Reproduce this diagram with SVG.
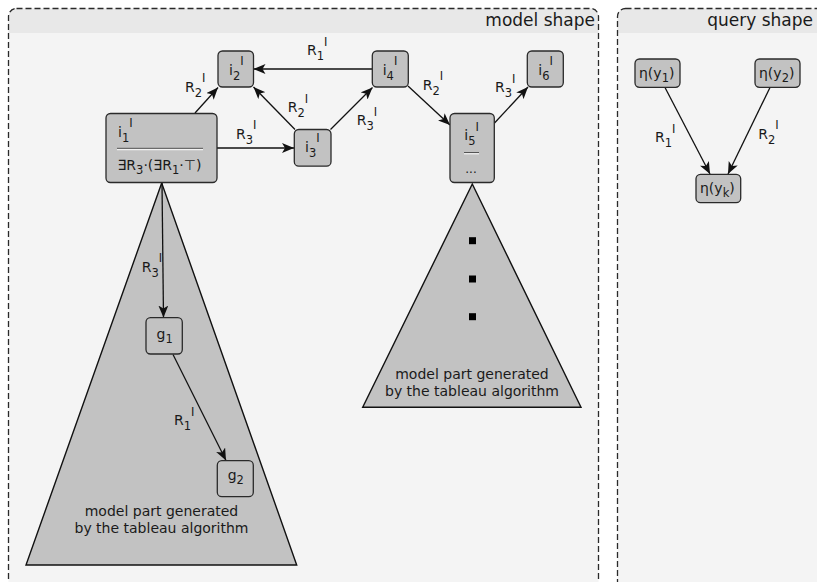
<svg xmlns="http://www.w3.org/2000/svg" width="817" height="582" viewBox="0 0 817 582">
<style>
text{font-family:"DejaVu Sans","Liberation Sans",sans-serif;fill:#1a1a1a}
.t{font-size:14px}
.s{font-size:11.5px}
.h{font-size:17px;text-anchor:end}
.c{font-size:14px;text-anchor:middle}
.panel{fill:#f4f4f4}
.head{fill:#e8e8e8}
.border{fill:none;stroke:#2a2a2a;stroke-width:1.3;stroke-dasharray:6,3}
.node{fill:#c2c2c2;stroke:#2a2a2a;stroke-width:1.3}
.tri{fill:#c2c2c2;stroke:#111;stroke-width:1.4}
.edge{stroke:#111;stroke-width:1.3;fill:none;marker-end:url(#arr)}
.sepd{stroke:#555;stroke-width:1}
.sepl{stroke:#f2f2f2;stroke-width:1.2}
</style>
<defs>
<marker id="arr" markerUnits="userSpaceOnUse" markerWidth="12" markerHeight="10" refX="12" refY="5" orient="auto">
<path d="M0,0 L12,5 L0,10 L3,5 z" fill="#111"/>
</marker>
</defs>

<g id="model-shape">
<rect class="panel" x="8.5" y="8.5" width="590" height="582" rx="8"/>
<path class="head" d="M8.5,33 V16.5 A8,8 0 0 1 16.5,8.5 H590.5 A8,8 0 0 1 598.5,16.5 V33 Z"/>
<rect class="border" x="8.5" y="8.5" width="590" height="582" rx="8"/>
<text class="h" x="595" y="26">model shape</text>
</g>

<g id="query-shape">
<rect class="panel" x="617.5" y="8.5" width="215" height="582" rx="8"/>
<path class="head" d="M617.5,33 V16.5 A8,8 0 0 1 625.5,8.5 H824.5 A8,8 0 0 1 832.5,16.5 V33 Z"/>
<rect class="border" x="617.5" y="8.5" width="215" height="582" rx="8"/>
<text class="h" x="813" y="26">query shape</text>
</g>

<g id="tableau-left">
<polygon class="tri" points="161.7,183 26,565 296.7,565"/>
<text class="c" x="161.5" y="515.5">model part generated</text>
<text class="c" x="161.5" y="532.5">by the tableau algorithm</text>
</g>

<g id="tableau-right">
<polygon class="tri" points="472.3,184 362.7,407.3 581,407.3"/>
<rect x="469" y="237.2" width="7" height="7" fill="#000"/>
<rect x="469" y="275.5" width="7" height="7" fill="#000"/>
<rect x="469" y="313.2" width="7" height="7" fill="#000"/>
<text class="c" x="472" y="379">model part generated</text>
<text class="c" x="472" y="396">by the tableau algorithm</text>
</g>

<g id="connectors">
<line class="edge" x1="195" y1="113" x2="218" y2="87.5"/>
<line class="edge" x1="217" y1="148" x2="294" y2="148"/>
<line class="edge" x1="295" y1="129.5" x2="253.5" y2="87"/>
<line class="edge" x1="372" y1="69" x2="253.5" y2="69"/>
<line class="edge" x1="330.5" y1="129.5" x2="372.5" y2="87.5"/>
<line class="edge" x1="408" y1="86" x2="450" y2="125"/>
<line class="edge" x1="494.5" y1="123" x2="528" y2="87"/>
<line class="edge" x1="162" y1="182.5" x2="163.5" y2="317.5"/>
<line class="edge" x1="173" y1="354.5" x2="226" y2="460.5"/>
<line class="edge" x1="665" y1="87.5" x2="710" y2="174"/>
<line class="edge" x1="770" y1="87.5" x2="728" y2="174"/>

<text class="t" x="185" y="91.7">R<tspan class="s" dy="5">2</tspan><tspan class="s" dy="-14.5">I</tspan></text>
<text class="t" x="236" y="138.5">R<tspan class="s" dy="5">3</tspan><tspan class="s" dy="-14.5">I</tspan></text>
<text class="t" x="287.7" y="112">R<tspan class="s" dy="5">2</tspan><tspan class="s" dy="-14.5">I</tspan></text>
<text class="t" x="307" y="55">R<tspan class="s" dy="5">1</tspan><tspan class="s" dy="-14.5">I</tspan></text>
<text class="t" x="356.7" y="125">R<tspan class="s" dy="5">3</tspan><tspan class="s" dy="-14.5">I</tspan></text>
<text class="t" x="422.7" y="89.5">R<tspan class="s" dy="5">2</tspan><tspan class="s" dy="-14.5">I</tspan></text>
<text class="t" x="495" y="92">R<tspan class="s" dy="5">3</tspan><tspan class="s" dy="-14.5">I</tspan></text>
<text class="t" x="141.7" y="271.5">R<tspan class="s" dy="5">3</tspan><tspan class="s" dy="-14.5">I</tspan></text>
<text class="t" x="174" y="425">R<tspan class="s" dy="5">1</tspan><tspan class="s" dy="-14.5">I</tspan></text>
<text class="t" x="655" y="142">R<tspan class="s" dy="5">1</tspan><tspan class="s" dy="-14.5">I</tspan></text>
<text class="t" x="758.3" y="138.5">R<tspan class="s" dy="5">2</tspan><tspan class="s" dy="-14.5">I</tspan></text>
</g>

<g id="i1">
<rect class="node" x="106" y="113.5" width="111" height="69" rx="4.5"/>
<text class="t" x="118" y="136.5">i<tspan class="s" dy="5">1</tspan><tspan class="s" dy="-15">I</tspan></text>
<line class="sepd" x1="117" y1="148.3" x2="203" y2="148.3"/>
<line class="sepl" x1="117" y1="149.6" x2="203" y2="149.6"/>
<text class="t" x="117.5" y="170">∃R<tspan class="s" dy="4">3</tspan><tspan dy="-4">·(∃R</tspan><tspan class="s" dy="4">1</tspan><tspan dy="-4">·⊤)</tspan></text>
</g>

<g id="i2">
<rect class="node" x="218" y="51" width="35.5" height="36" rx="4.5"/>
<text class="t" x="229" y="74.5">i<tspan class="s" dy="5">2</tspan><tspan class="s" dy="-14.5">I</tspan></text>
</g>

<g id="i3">
<rect class="node" x="294.3" y="129.5" width="36.7" height="36.7" rx="4.5"/>
<text class="t" x="305" y="151.5">i<tspan class="s" dy="5">3</tspan><tspan class="s" dy="-14.5">I</tspan></text>
</g>

<g id="i4">
<rect class="node" x="372.3" y="51" width="36" height="36" rx="4.5"/>
<text class="t" x="382.7" y="74.5">i<tspan class="s" dy="5">4</tspan><tspan class="s" dy="-14.5">I</tspan></text>
</g>

<g id="i5">
<rect class="node" x="450" y="113.5" width="44.3" height="69" rx="4.5"/>
<text class="t" x="464.3" y="140">i<tspan class="s" dy="5">5</tspan><tspan class="s" dy="-14.5">I</tspan></text>
<line class="sepd" x1="464" y1="152.5" x2="479" y2="152.5"/>
<line class="sepl" x1="464" y1="153.8" x2="479" y2="153.8"/>
<text x="471" y="172.5" style="font-size:12px;text-anchor:middle">...</text>
</g>

<g id="i6">
<rect class="node" x="527.3" y="51" width="36" height="36" rx="4.5"/>
<text class="t" x="538.3" y="74.5">i<tspan class="s" dy="5">6</tspan><tspan class="s" dy="-14.5">I</tspan></text>
</g>

<g id="g1">
<rect class="node" x="146" y="317.7" width="36.3" height="36.3" rx="4.5"/>
<text class="t" x="156.5" y="339">g<tspan class="s" dy="4">1</tspan></text>
</g>

<g id="g2">
<rect class="node" x="217.3" y="460.7" width="36" height="36" rx="4.5"/>
<text class="t" x="227.7" y="480">g<tspan class="s" dy="4">2</tspan></text>
</g>

<g id="eta-y1">
<rect class="node" x="635" y="59" width="45" height="28.3" rx="4.5"/>
<text class="t" x="639" y="78">η(y<tspan class="s" dy="4">1</tspan><tspan dy="-4">)</tspan></text>
</g>

<g id="eta-y2">
<rect class="node" x="755" y="59" width="45" height="28.3" rx="4.5"/>
<text class="t" x="759" y="78">η(y<tspan class="s" dy="4">2</tspan><tspan dy="-4">)</tspan></text>
</g>

<g id="eta-yk">
<rect class="node" x="696" y="174.3" width="44.7" height="28.4" rx="4.5"/>
<text class="t" x="700" y="192.5">η(y<tspan class="s" dy="4">k</tspan><tspan dy="-4">)</tspan></text>
</g>
</svg>
